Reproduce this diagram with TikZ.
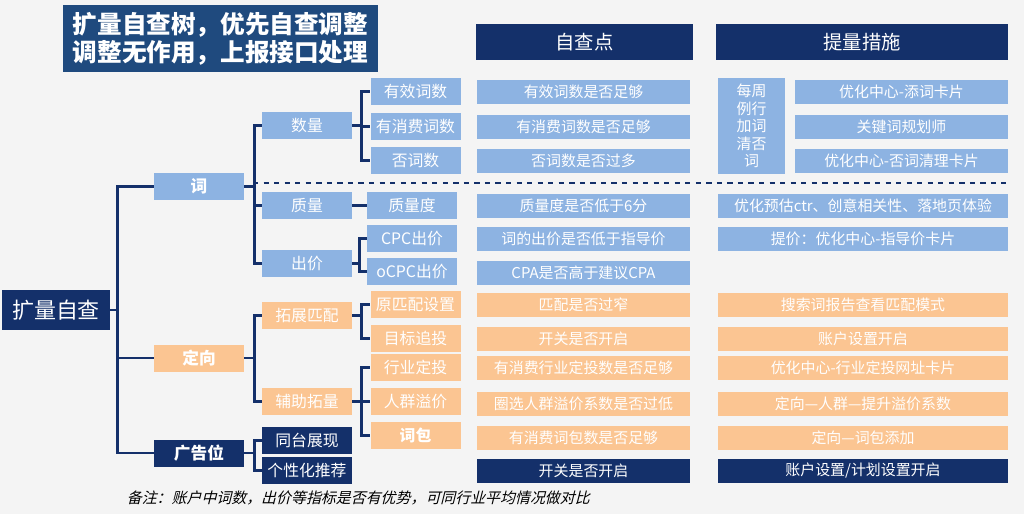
\documentclass[tikz,border=0pt]{standalone}
\usepackage{fontspec}
\setmainfont{Noto Sans CJK SC}
\usetikzlibrary{positioning}
\definecolor{navy}{HTML}{14306A}
\definecolor{lblue}{HTML}{8DB3E2}
\definecolor{lorange}{HTML}{FBC592}
\definecolor{titleblue}{HTML}{1F4A7E}
\begin{document}
\begin{tikzpicture}[x=0.02cm,y=-0.02cm,
    box/.style={minimum width=90*0.02cm, minimum height=27*0.02cm, inner sep=0pt, font=\fontsize{9}{10}\selectfont},
    bl/.style={box, fill=lblue, text=white},
    bo/.style={box, fill=lorange, text=white},
    bn/.style={box, fill=navy, text=white},
    chk/.style={box, minimum width=213*0.02cm, minimum height=24*0.02cm, font=\fontsize{8.5}{9}\selectfont},
    link/.style={navy, line width=1.6pt}]
	% Background
	\fill[gray!9] (0,0) rectangle (1024,514);
	\useasboundingbox (0,0) rectangle (1024,514);
	
	% Title and headers
	\node[fill=titleblue, text=white, font=\bfseries\fontsize{14}{16}\selectfont, align=left, minimum width=315*0.02cm, minimum height=67*0.02cm, inner sep=0pt] (title) at (220.5,38.5) {扩量自查树，优先自查调整\\调整无作用，上报接口处理};
	\node[bn, minimum width=217*0.02cm, minimum height=36*0.02cm, font=\fontsize{11}{12}\selectfont] (hcheck) at (584.5,42) {自查点};
	\node[bn, minimum width=292*0.02cm, minimum height=36*0.02cm, font=\fontsize{11}{12}\selectfont] (hact) at (862,42) {提量措施};
	
	% Tree nodes
	\node[bn, minimum width=108*0.02cm, minimum height=40*0.02cm, font=\fontsize{12.5}{14}\selectfont] (root) at (56,310) {扩量自查};
	\node[bl, font=\bfseries\fontsize{9.5}{10}\selectfont] (ci) at (199,186.5) {词};
	\node[bo, font=\bfseries\fontsize{9.5}{10}\selectfont] (dx) at (199,358) {定向};
	\node[bn, font=\bfseries\fontsize{9.5}{10}\selectfont] (ggw) at (199,453) {广告位};
	
	\node[bl] (sl) at (307,125.5) {数量};
	\node[bl] (zl) at (307,205.5) {质量};
	\node[bl] (cj) at (307,263.5) {出价};
	\node[bo] (tzpp) at (307,315.5) {拓展匹配};
	\node[bo] (fztl) at (307,401.5) {辅助拓量};
	\node[bn] (ttzx) at (307,440.5) {同台展现};
	\node[bn] (gxh) at (307,470.5) {个性化推荐};
	
	\node[bl] (yxcs) at (415.5,91.5) {有效词数};
	\node[bl] (yxfcs) at (415.5,126.5) {有消费词数};
	\node[bl] (fcs) at (415.5,160.5) {否词数};
	\node[bl] (zld) at (412,205.5) {质量度};
	\node[bl] (cpc) at (412,238.5) {CPC出价};
	\node[bl] (ocpc) at (412,271.5) {oCPC出价};
	\node[bo] (yppsz) at (415.5,304.5) {原匹配设置};
	\node[bo] (mbzt) at (415.5,338.5) {目标追投};
	\node[bo] (hydt) at (415.5,367.5) {行业定投};
	\node[bo] (rqyj) at (415.5,401.5) {人群溢价};
	\node[bo, font=\bfseries\fontsize{9}{10}\selectfont] (cb) at (415.5,435.5) {词包};
	
	% Tree links
	\foreach \c in {ci,dx,ggw} \draw[link] (root.east) -- ++(7,0) |- (\c.west);
	\foreach \c in {sl,zl,cj} \draw[link] (ci.east) -- ++(10,0) |- (\c.west);
	\foreach \c in {tzpp,fztl} \draw[link] (dx.east) -- ++(10,0) |- (\c.west);
	\foreach \c in {ttzx,gxh} \draw[link] (ggw.east) -- ++(10,0) |- (\c.west);
	\foreach \c in {yxcs,yxfcs,fcs} \draw[link] (sl.east) -- ++(9,0) |- (\c.west);
	\draw[link] (zl) -- (zld);
	\foreach \c in {cpc,ocpc} \draw[link] (cj.east) -- ++(7,0) |- (\c.west);
	\foreach \c in {yppsz,mbzt} \draw[link] (tzpp.east) -- ++(9,0) |- (\c.west);
	\foreach \c in {hydt,rqyj,cb} \draw[link] (fztl.east) -- ++(9,0) |- (\c.west);
	
	% Divider
	\coordinate (dl) at (253,183);
	\coordinate (dr) at (1006,183);
	\draw[navy, line width=1pt, dashed] (dl) -- (dr);
	
	% Check points
	\foreach \y/\t/\s in {91.5/有效词数是否足够/bl, 126.5/有消费词数是否足够/bl, 160.5/否词数是否过多/bl,
		205.5/质量度是否低于6分/bl, 238.5/词的出价是否低于指导价/bl, 272.5/CPA是否高于建议CPA/bl,
		304.5/匹配是否过窄/bo, 338.5/开关是否开启/bo, 367.5/有消费行业定投数是否足够/bo,
		403.5/圈选人群溢价系数是否过低/bo, 437.5/有消费词包数是否足够/bo, 470.5/开关是否开启/bn}
		\node[\s, chk] at (583.5,\y) {\t};
	
	% Actions
	\node[bl, minimum width=67*0.02cm, minimum height=96*0.02cm, align=center, font=\fontsize{8.5}{10}\selectfont] (weekly) at (751.5,126) {每周\\例行\\加词\\清否\\词};
	\foreach \y/\t in {91.5/优化中心-添词卡片, 126.5/关键词规划师, 160.5/优化中心-否词清理卡片}
		\node[bl, chk, minimum width=213*0.02cm] at (901.5,\y) {\t};
	\foreach \y/\t/\s in {205.5/优化预估ctr、创意相关性、落地页体验/bl, 238.5/提价：优化中心-指导价卡片/bl,
		304.5/搜索词报告查看匹配模式/bo, 338.5/账户设置开启/bo, 367.5/优化中心-行业定投网址卡片/bo,
		403.5/定向—人群—提升溢价系数/bo, 437.5/定向—词包添加/bo, 470.5/{账户设置/计划设置开启}/bn}
		\node[\s, chk, minimum width=290*0.02cm] at (863,\y) {\t};
	
	% Note
	\node[anchor=west, font=\fontsize{8.5}{10}\selectfont, xslant=0.25, transform shape] (note) at (122,498) {备注：账户中词数，出价等指标是否有优势，可同行业平均情况做对比};
\end{tikzpicture}
\end{document}
